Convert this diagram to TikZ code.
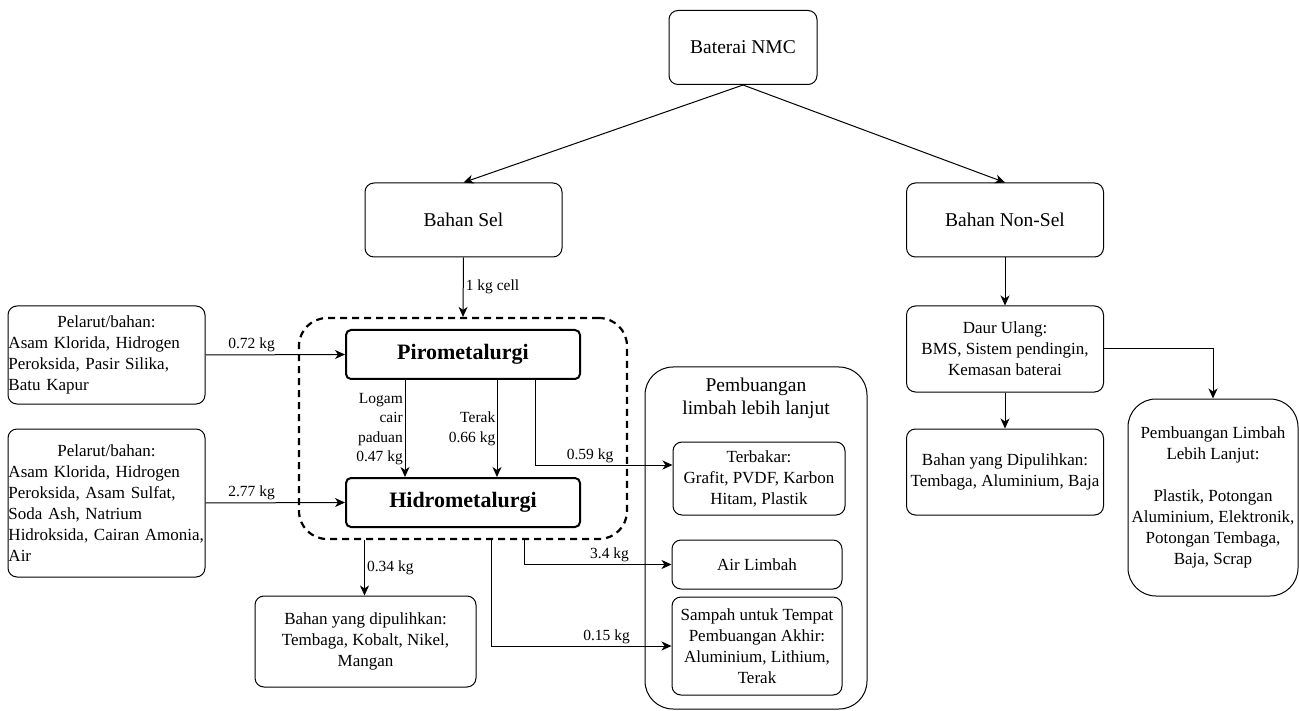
\documentclass[tikz,border=0pt]{standalone}
\usepackage{fontspec}
\setmainfont{Liberation Serif}[Ligatures=TeX]
\newfontfamily\tnr{Liberation Serif}[Ligatures=TeX]
\usetikzlibrary{arrows.meta,positioning}
\newcommand\fsz[2]{\tnr\fontsize{#1}{#2}\selectfont}
\tikzset{
  box/.style={draw, rounded corners=9pt, line width=1pt, align=center, inner sep=1pt, font=\fsz{17}{21}},
  bigbox/.style={box, font=\fsz{19.5}{23}},
  procbox/.style={draw, rounded corners=5pt, line width=2pt, align=center, font=\fsz{22}{26}\bfseries, minimum width=234pt, minimum height=49pt},
  lbl/.style={font=\fsz{15.5}{19.5}, inner sep=2pt},
  arr/.style={-{Stealth[length=10pt,width=9pt,inset=3pt]}, line width=1pt},
}
\begin{document}
\hyphenpenalty=10000
\begin{tikzpicture}[x=1pt,y=-1pt]
\useasboundingbox (0,0) rectangle (1299,711);

% dashed group
\node[draw, dashed, dash pattern=on 7pt off 5pt, line width=2.2pt, rounded corners=28pt,
      minimum width=328pt, minimum height=221pt] (grp) at (463,428.5) {};

% container
\node[draw, line width=1pt, rounded corners=28pt, minimum width=222pt, minimum height=342pt] (cont) at (756,538) {};
\node[font=\fsz{19.5}{23}, align=center, inner sep=0pt] (contt) at (756,398) {Pembuangan\\limbah lebih lanjut};

% top
\node[bigbox, minimum width=148pt, minimum height=74pt] (bat) at (743,47.5) {Baterai NMC};
\node[bigbox, minimum width=197pt, minimum height=74pt] (sel) at (463.5,220) {Bahan Sel};
\node[bigbox, minimum width=197pt, minimum height=74pt] (nonsel) at (1005,220) {Bahan Non-Sel};

% processes
\node[procbox] (piro) at (463,354.5) {Pirometalurgi};
\node[procbox] (hidro) at (463,502.5) {Hidrometalurgi};

% inputs
\node[box, align=left, text width=196pt, minimum width=197pt, minimum height=98pt, inner xsep=0.5pt] (in1) at (106.5,355)
 {\makebox[196pt]{Pelarut/bahan:}\\Asam Klorida, Hidrogen\\Peroksida, Pasir Silika,\\Batu Kapur};
\node[box, align=left, text width=196pt, minimum width=197pt, minimum height=148pt, inner xsep=0.5pt] (in2) at (106.5,503)
 {\makebox[196pt]{Pelarut/bahan:}\\Asam Klorida, Hidrogen\\Peroksida, Asam Sulfat,\\Soda Ash, Natrium\\Hidroksida, Cairan Amonia,\\Air};

% outputs
\node[box, minimum width=221pt, minimum height=91pt] (rec) at (365.5,641.5) {Bahan yang dipulihkan:\\Tembaga, Kobalt, Nikel,\\Mangan};
\node[box, minimum width=172pt, minimum height=73pt] (terb) at (759,478.5) {Terbakar:\\Grafit, PVDF, Karbon\\Hitam, Plastik};
\node[box, minimum width=170pt, minimum height=49pt] (air) at (757,564.5) {Air Limbah};
\node[box, minimum width=170pt, minimum height=98pt] (samp) at (757,646) {Sampah untuk Tempat\\Pembuangan Akhir:\\Aluminium, Lithium,\\Terak};

% right side
\node[box, minimum width=197pt, minimum height=86pt] (daur) at (1005,349) {Daur Ulang:\\BMS, Sistem pendingin,\\Kemasan baterai};
\node[box, minimum width=197pt, minimum height=86pt] (recnon) at (1005,472) {Bahan yang Dipulihkan:\\Tembaga, Aluminium, Baja};
\node[box, rounded corners=28pt, minimum width=170pt, minimum height=197pt] (pl) at (1213,497.5)
 {Pembuangan Limbah\\Lebih Lanjut:\\[21pt]Plastik, Potongan\\Aluminium, Elektronik,\\Potongan Tembaga,\\Baja, Scrap};

% helper coordinates
\coordinate (x405) at (405,0);
\coordinate (x497) at (497,0);
\coordinate (x535) at (535,0);
\coordinate (x364) at (364.5,0);
\coordinate (x524) at (524,0);
\coordinate (x491) at (491,0);
\coordinate (y465) at (0,465);

% connectors
\draw[arr] (bat.south) -- (sel.north);
\draw[arr] (bat.south) -- (nonsel.north);
\draw[arr] (sel.south) -- node[right, lbl]{1 kg cell} (grp.north);
\draw[arr] (in1.east) -- node[above, lbl, pos=0.33]{0.72 kg} (piro.west);
\draw[arr] (in2.east) -- node[above, lbl, pos=0.33]{2.77 kg} (hidro.west);
\draw[arr] (piro.south -| x405) -- (hidro.north -| x405);
\node[lbl, align=right, anchor=east, inner sep=0pt] (llog) at (403,429) {Logam\\cair\\paduan\\0.47 kg};
\draw[arr] (piro.south -| x497) -- (hidro.north -| x497);
\node[lbl, align=right, anchor=east, inner sep=0pt] (lter) at (495.5,429) {Terak\\0.66 kg};
\draw[arr] (piro.south -| x535) |- node[above, lbl, pos=0.7]{0.59 kg} (terb.west |- y465);
\draw[arr] (grp.south -| x364) -- node[right, lbl]{0.34 kg} (rec.north -| x364);
\draw[arr] (grp.south -| x524) |- node[above, lbl, pos=0.79]{3.4 kg} (air.west);
\draw[arr] (grp.south -| x491) |- node[above, lbl, pos=0.82]{0.15 kg} (samp.west);
\draw[arr] (nonsel.south) -- (daur.north);
\draw[arr] (daur.south) -- (recnon.north);
\draw[arr] (daur.east) -| (pl.north);
\end{tikzpicture}
\end{document}
